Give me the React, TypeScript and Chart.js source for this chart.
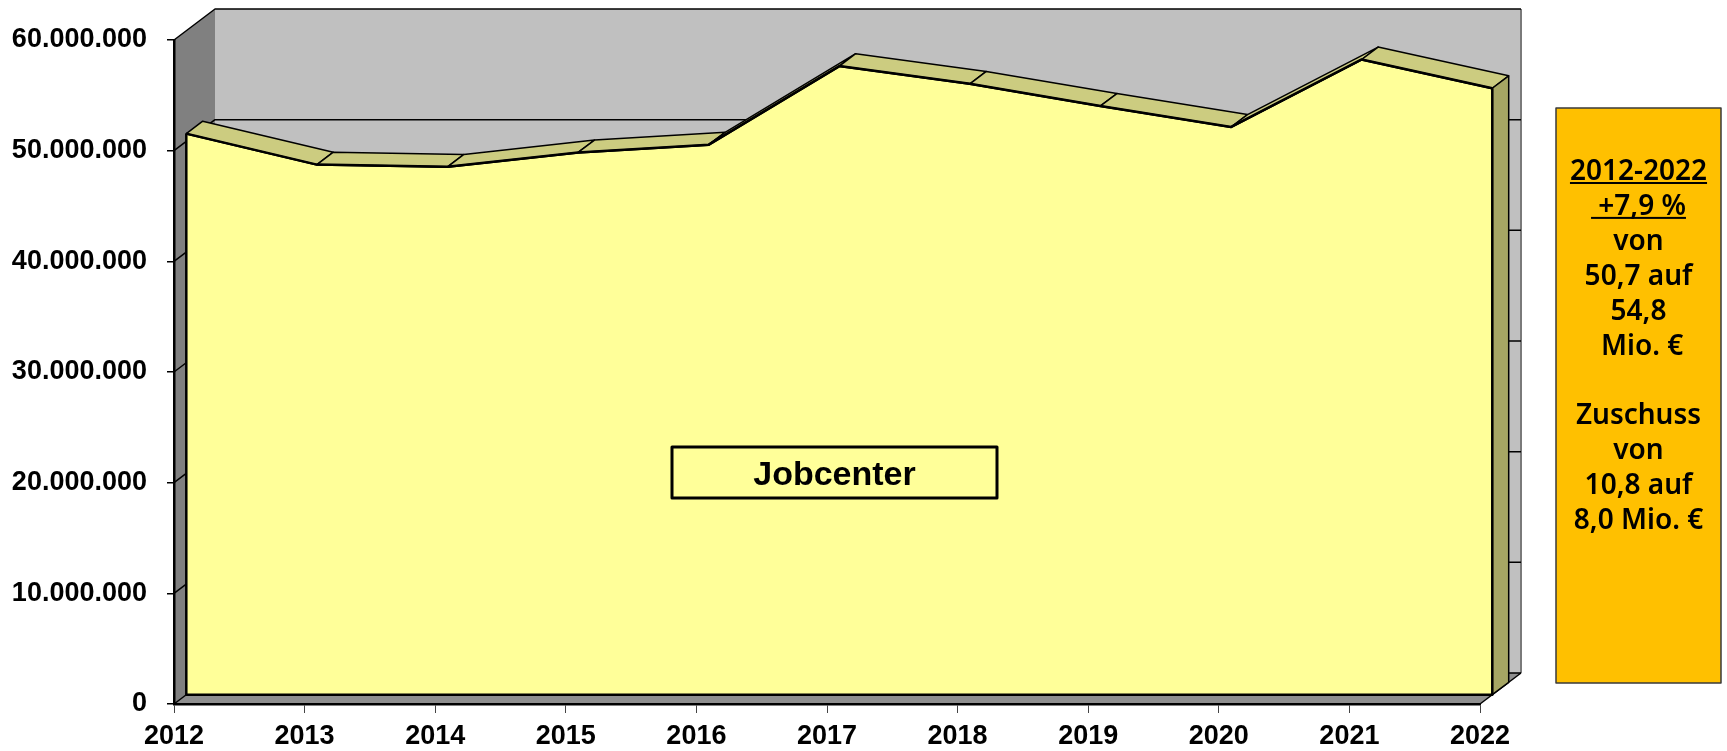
import React, { useEffect, useRef } from 'react';
import { Chart, registerables } from 'chart.js';

Chart.register(...registerables);

// ---- data ----
const years = ['2012', '2013', '2014', '2015', '2016', '2017', '2018', '2019', '2020', '2021', '2022'];
const jobcenterValues = [
  50700000, 47900000, 47700000, 49000000, 49700000, 56800000,
  55200000, 53200000, 51300000, 57400000, 54800000,
];
const seriesLabel = 'Jobcenter';
const yMin = 0;
const yMax = 60000000;
const yStep = 10000000;
const noteLines = [
  '2012-2022',
  ' +7,9 %',
  'von',
  '50,7 auf',
  '54,8',
  ' Mio. €',
  '',
  'Zuschuss',
  'von',
  '10,8 auf',
  '8,0 Mio. €',
];
const noteUnderlined = [true, true, false, false, false, false, false, false, false, false, false];

// ---- style ----
const DEPTH_X = 41;
const DEPTH_Y = -31;
const FRONT = 0.3;
const BACK = 0.7;
const AXIS_FONT = '"Liberation Sans", Arial, sans-serif';

function fmt(v: number): string {
  return String(Math.round(v)).replace(/\B(?=(\d{3})+(?!\d))/g, '.');
}

function poly(ctx: CanvasRenderingContext2D, pts: number[][], fill: string | null, stroke: string | null, lw = 1.5) {
  ctx.beginPath();
  ctx.moveTo(pts[0][0], pts[0][1]);
  for (let i = 1; i < pts.length; i++) ctx.lineTo(pts[i][0], pts[i][1]);
  ctx.closePath();
  if (fill) {
    ctx.fillStyle = fill;
    ctx.fill();
  }
  if (stroke) {
    ctx.strokeStyle = stroke;
    ctx.lineWidth = lw;
    ctx.stroke();
  }
}

const box3dPlugin = {
  id: 'box3d',
  beforeDraw(chart: any) {
    const { ctx, chartArea: a } = chart;
    const y = chart.scales.y;
    const L = a.left, R = a.right, T = a.top, B = a.bottom;
    const dx = DEPTH_X, dy = DEPTH_Y;
    ctx.save();
    ctx.lineJoin = 'round';
    // back wall
    poly(ctx, [[L + dx, T + dy], [R + dx, T + dy], [R + dx, B + dy], [L + dx, B + dy]], '#c0c0c0', null);
    // side wall
    poly(ctx, [[L, T], [L + dx, T + dy], [L + dx, B + dy], [L, B]], '#808080', null);
    // floor
    poly(ctx, [[L, B], [R, B], [R + dx, B + dy], [L + dx, B + dy]], '#8f8f8f', null);
    // back wall right edge
    ctx.strokeStyle = '#7a7a7a';
    ctx.lineWidth = 2;
    ctx.beginPath();
    ctx.moveTo(R + dx, T + dy);
    ctx.lineTo(R + dx, B + dy);
    ctx.stroke();
    // gridlines on side and back wall
    ctx.strokeStyle = '#000';
    ctx.lineWidth = 1.5;
    y.ticks.forEach((t: any) => {
      const py = y.getPixelForValue(t.value);
      ctx.beginPath();
      ctx.moveTo(L, py);
      ctx.lineTo(L + dx, py + dy);
      ctx.lineTo(R + dx, py + dy);
      ctx.stroke();
    });
    // floor right edge
    ctx.beginPath();
    ctx.moveTo(R, B);
    ctx.lineTo(R + dx, B + dy);
    ctx.stroke();
    ctx.restore();
  },
  beforeDatasetsDraw(chart: any) {
    const { ctx } = chart;
    ctx.save();
    ctx.translate(FRONT * DEPTH_X, FRONT * DEPTH_Y);
  },
  afterDatasetsDraw(chart: any) {
    const { ctx } = chart;
    ctx.restore();
    const y = chart.scales.y;
    const fx = FRONT * DEPTH_X, fy = FRONT * DEPTH_Y;
    const bx = (BACK - FRONT) * DEPTH_X, by = (BACK - FRONT) * DEPTH_Y;
    const meta = chart.getDatasetMeta(0);
    const pts: number[][] = meta.data.map((p: any) => [p.x + fx, p.y + fy]);
    const base = y.getPixelForValue(0) + fy;
    ctx.save();
    ctx.lineJoin = 'round';
    // top surfaces
    for (let i = 0; i < pts.length - 1; i++) {
      const a = pts[i], b = pts[i + 1];
      poly(ctx, [a, b, [b[0] + bx, b[1] + by], [a[0] + bx, a[1] + by]], '#cccc80', '#000', 1.5);
    }
    // right face
    const last = pts[pts.length - 1];
    poly(ctx, [last, [last[0] + bx, last[1] + by], [last[0] + bx, base + by], [last[0], base]], '#a6a664', '#000', 1.5);
    // front face outline
    ctx.strokeStyle = '#000';
    ctx.lineWidth = 2.5;
    ctx.beginPath();
    ctx.moveTo(pts[0][0], pts[0][1]);
    ctx.lineTo(pts[0][0], base);
    ctx.lineTo(last[0], base);
    ctx.lineTo(last[0], last[1]);
    ctx.stroke();
    ctx.beginPath();
    ctx.moveTo(pts[0][0], pts[0][1]);
    for (let i = 1; i < pts.length; i++) ctx.lineTo(pts[i][0], pts[i][1]);
    ctx.stroke();

    // series label box
    const lx = 834.5, ly = 472.5, lw = 325, lh = 51;
    ctx.fillStyle = '#ffff99';
    ctx.fillRect(lx - lw / 2, ly - lh / 2, lw, lh);
    ctx.strokeStyle = '#000';
    ctx.lineWidth = 3;
    ctx.strokeRect(lx - lw / 2, ly - lh / 2, lw, lh);
    ctx.fillStyle = '#000';
    ctx.font = `bold 34px ${AXIS_FONT}`;
    ctx.textAlign = 'center';
    ctx.textBaseline = 'alphabetic';
    ctx.fillText(seriesLabel, lx, ly + 12);

    // note box
    const nx = 1556, ny = 108, nw = 165, nh = 575;
    ctx.fillStyle = '#ffc000';
    ctx.fillRect(nx, ny, nw, nh);
    ctx.strokeStyle = '#3a3a3a';
    ctx.lineWidth = 1.5;
    ctx.strokeRect(nx, ny, nw, nh);
    ctx.fillStyle = '#000';
    ctx.font = '600 28px "Noto Sans", "Open Sans", sans-serif';
    ctx.textAlign = 'center';
    const cx = nx + nw / 2;
    noteLines.forEach((t, i) => {
      const by0 = 180 + i * 34.9;
      ctx.fillText(t, cx, by0);
      if (noteUnderlined[i] && t) {
        const w = ctx.measureText(t).width;
        ctx.fillRect(cx - w / 2, by0 + 2, w, 2);
      }
    });
    ctx.restore();
  },
};

export default function App() {
  const ref = useRef<HTMLCanvasElement | null>(null);
  useEffect(() => {
    if (!ref.current) return;
    const chart = new Chart(ref.current, {
      type: 'line',
      data: {
        labels: years,
        datasets: [
          {
            label: seriesLabel,
            data: jobcenterValues,
            fill: 'origin',
            backgroundColor: '#ffff99',
            borderColor: '#000',
            borderWidth: 2.5,
            pointRadius: 0,
            tension: 0,
            clip: false,
          } as any,
        ],
      },
      options: {
        animation: false,
        responsive: false,
        devicePixelRatio: 1,
        layout: { padding: { top: 40, right: 247, left: 0, bottom: 0 } },
        plugins: { legend: { display: false }, tooltip: { enabled: false } },
        scales: {
          x: {
            type: 'category',
            offset: false,
            afterFit: (s: any) => { s.height = 47; },
            grid: { drawOnChartArea: false, drawTicks: true, tickLength: 9, color: '#444', lineWidth: 1 },
            border: { display: true, color: '#000', width: 2.5 },
            ticks: {
              color: '#000',
              font: { family: AXIS_FONT, size: 27, weight: 'bold' },
              padding: 7,
              maxRotation: 0,
              autoSkip: false,
            },
          },
          y: {
            min: yMin,
            max: yMax,
            afterFit: (s: any) => { s.width = 174; },
            grid: { drawOnChartArea: false, drawTicks: true, tickLength: 7, color: '#000', lineWidth: 1.5 },
            border: { display: true, color: '#000', width: 2.5 },
            ticks: {
              stepSize: yStep,
              color: '#000',
              font: { family: AXIS_FONT, size: 27, weight: 'bold' },
              padding: 20,
              callback: (v: any) => fmt(Number(v)),
            },
          },
        },
      } as any,
      plugins: [box3dPlugin as any],
    });
    return () => chart.destroy();
  }, []);
  return (
    <div style={{ position: 'fixed', left: 0, top: 0, width: 1727, height: 751, background: '#fff' }}>
      <canvas ref={ref} width={1727} height={751} style={{ display: 'block' }} />
    </div>
  );
}
